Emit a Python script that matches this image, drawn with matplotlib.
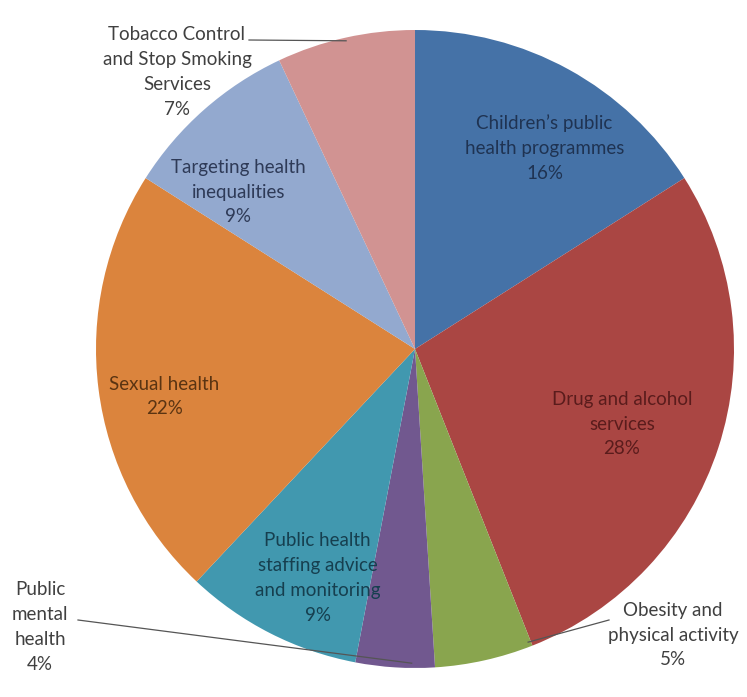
import numpy as np
import matplotlib.pyplot as plt

plt.rcParams['font.family'] = ['Lato', 'DejaVu Sans']

# spend by area, clockwise from 12 o'clock
labels = [
    'Children\u2019s public\nhealth programmes',
    'Drug and alcohol\nservices',
    'Obesity and\nphysical activity',
    'Public\nmental\nhealth',
    'Public health\nstaffing advice\nand monitoring',
    'Sexual health',
    'Targeting health\ninequalities',
    'Tobacco Control\nand Stop Smoking\nServices',
]
shares = [16, 28, 5, 4, 9, 22, 9, 7]

colors = ['#4572a7', '#aa4643', '#89a54e', '#71588f',
          '#4198af', '#db843d', '#93a9cf', '#d19392']
text_colors = ['#1f3352', '#5a1c1c', '#404040', '#404040',
               '#163f4f', '#5a3412', '#2e3a57', '#404040']

W, H = 747, 697
fig = plt.figure(figsize=(W / 100, H / 100), dpi=100)
ax = fig.add_axes([0, 0, 1, 1])
ax.set_xlim(0, W)
ax.set_ylim(0, H)
ax.set_aspect('equal')
ax.axis('off')

cx, cy, R = 415, 348, 319
wedges, _ = ax.pie(shares, colors=colors, startangle=90, counterclock=False,
                   center=(cx, cy), radius=R,
                   wedgeprops=dict(linewidth=0))
ax.set_xlim(0, W)
ax.set_ylim(0, H)

# label placement: (distance as fraction of radius, angle tweak in deg) for inside labels,
# explicit offset from centre for the outside ones
inside = {0: (0.75, -4), 1: (0.69, -2), 4: (0.78, 4), 5: (0.80, 3.5), 6: (0.74, 7)}
outside = {2: (258, -286), 3: (-375, -278), 7: (-238, 277)}

for i, w in enumerate(wedges):
    mid = np.deg2rad((w.theta1 + w.theta2) / 2)
    text = f'{labels[i]}\n{shares[i]}%'
    if i in inside:
        f, tweak = inside[i]
        a = mid + np.deg2rad(tweak)
        x, y = cx + f * R * np.cos(a), cy + f * R * np.sin(a)
    else:
        dx, dy = outside[i]
        x, y = cx + dx, cy + dy
    ax.text(x, y, text, ha='center', va='center', fontsize=13.5,
            color=text_colors[i], linespacing=1.55)

# leader lines for the labels set outside the pie
def leader(start, angle, frac=0.99):
    a = np.deg2rad(angle)
    ex, ey = cx + frac * R * np.cos(a), cy + frac * R * np.sin(a)
    ax.plot([start[0], ex], [start[1], ey], color='#555555', lw=0.9)

def mid_angle(w):
    return (w.theta1 + w.theta2) / 2

leader((249, 657), mid_angle(wedges[7]))
leader((78, 77), mid_angle(wedges[3]) + 3, frac=0.985)
leader((609, 77), max(wedges[2].theta1, wedges[2].theta2) - 0.5, frac=0.985)

fig.savefig('out.png', dpi=100)
